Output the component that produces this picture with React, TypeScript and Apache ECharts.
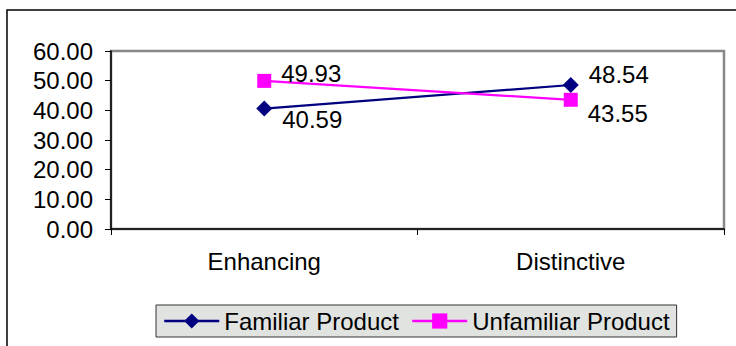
import React, { useEffect, useRef } from "react";
import * as echarts from "echarts";

const categories = ["Enhancing", "Distinctive"];
const familiarValues = [40.59, 48.54];
const unfamiliarValues = [49.93, 43.55];
const seriesNames = ["Familiar Product", "Unfamiliar Product"];

const FONT = "'Liberation Sans', Arial, sans-serif";

export default function App() {
  const ref = useRef<HTMLDivElement>(null);
  useEffect(() => {
    if (!ref.current) return;
    const chart = echarts.init(ref.current, undefined, { renderer: "svg" });
    const fam = familiarValues.map((v, i) => ({
      value: v,
      label: { offset: i === 0 ? [0, 11] : [0, -10] },
    }));
    const unf = unfamiliarValues.map((v, i) => ({
      value: v,
      label: { offset: i === 0 ? [0, -7] : [0, 14] },
    }));
    chart.setOption({
      animation: false,
      backgroundColor: "#fff",
      textStyle: { fontFamily: FONT },
      graphic: [
        {
          type: "rect",
          shape: { x: 7, y: 10, width: 800, height: 400 },
          style: { fill: "none", stroke: "#000", lineWidth: 1.5 },
          silent: true,
        },
      ],
      grid: {
        left: 111,
        right: 12,
        top: 51,
        bottom: 117,
        show: true,
        borderColor: "#888",
        borderWidth: 2.5,
        backgroundColor: "#fff",
      },
      legend: {
        left: 156,
        top: 305,
        data: seriesNames,
        itemWidth: 55,
        itemHeight: 19,
        itemGap: 12,
        padding: [4, 7, 4, 7],
        backgroundColor: "#e0e3e0",
        borderColor: "#333",
        borderWidth: 1,
        borderRadius: 0,
        lineStyle: { width: 2.5 },
        textStyle: { fontFamily: FONT, fontSize: 24, color: "#000" },
      },
      xAxis: {
        type: "category",
        data: categories,
        boundaryGap: true,
        axisLine: { lineStyle: { color: "#000", width: 1.5 } },
        axisTick: { show: true, length: 6, lineStyle: { color: "#000" } },
        axisLabel: { fontFamily: FONT, fontSize: 24, color: "#000", margin: 20 },
        splitLine: { show: false },
      },
      yAxis: {
        type: "value",
        min: 0,
        max: 60,
        interval: 10,
        axisLine: { show: true, lineStyle: { color: "#000", width: 1.5 } },
        axisTick: { show: true, length: 6, lineStyle: { color: "#000" } },
        axisLabel: {
          fontFamily: FONT,
          fontSize: 24,
          color: "#000",
          margin: 18,
          formatter: (v: number) => v.toFixed(2),
        },
        splitLine: { show: false },
      },
      series: [
        {
          name: seriesNames[0],
          type: "line",
          data: fam,
          symbol: "diamond",
          symbolSize: 16,
          itemStyle: { color: "#000080" },
          lineStyle: { color: "#000080", width: 2.2 },
          label: {
            show: true,
            position: "right",
            distance: 10,
            fontFamily: FONT,
            fontSize: 24,
            color: "#000",
            formatter: (p: any) => Number(p.value).toFixed(2),
          },
        },
        {
          name: seriesNames[1],
          type: "line",
          data: unf,
          symbol: "rect",
          symbolSize: 14,
          itemStyle: { color: "#ff00ff" },
          lineStyle: { color: "#ff00ff", width: 2.2 },
          label: {
            show: true,
            position: "right",
            distance: 10,
            fontFamily: FONT,
            fontSize: 24,
            color: "#000",
            formatter: (p: any) => Number(p.value).toFixed(2),
          },
        },
      ],
    });
    return () => chart.dispose();
  }, []);
  return (
    <div
      ref={ref}
      style={{ position: "fixed", left: 0, top: 0, width: 736, height: 346 }}
    />
  );
}
